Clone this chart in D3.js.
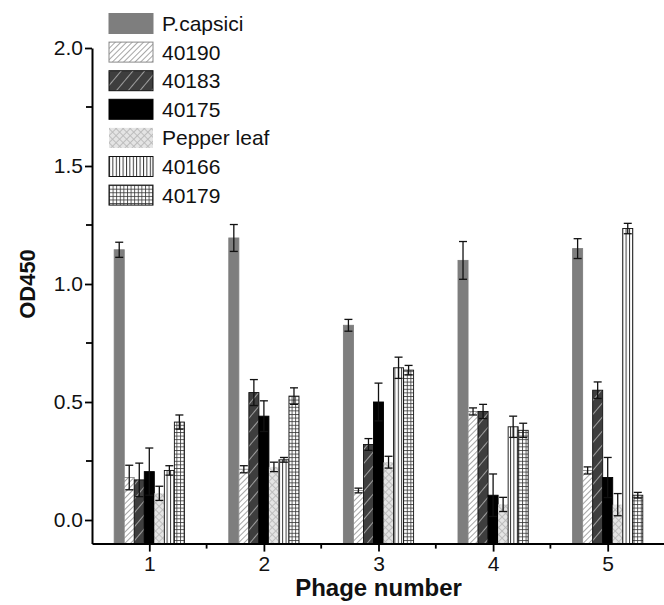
<!DOCTYPE html>
<html>
<head>
<meta charset="utf-8">
<script src="https://cdn.jsdelivr.net/npm/d3@7"></script>
<style>
    body { margin: 0; background: #fff; }
    text { font-family: "Liberation Sans", Arial, sans-serif; fill: #111; }
</style>
</head>
<body>
<div id="chart-area"></div>
<script>
var width = 664;
var height = 605;

// phage numbers on the x axis
var phages = [1, 2, 3, 4, 5];
var seriesNames = ["P.capsici", "40190", "40183", "40175", "Pepper leaf", "40166", "40179"];

// OD450 means per series (one value per phage)
var pcapsici = [1.145, 1.195, 0.825, 1.10, 1.15];
var s40190 = [0.18, 0.215, 0.125, 0.46, 0.21];
var s40183 = [0.17, 0.54, 0.32, 0.46, 0.55];
var s40175 = [0.205, 0.44, 0.50, 0.105, 0.18];
var pepperLeaf = [0.113, 0.225, 0.245, 0.066, 0.065];
var s40166 = [0.21, 0.255, 0.645, 0.395, 1.235];
var s40179 = [0.415, 0.525, 0.635, 0.38, 0.105];

// error bar half lengths
var pcapsiciErr = [0.032, 0.057, 0.025, 0.08, 0.042];
var s40190Err = [0.052, 0.015, 0.01, 0.015, 0.015];
var s40183Err = [0.071, 0.055, 0.025, 0.03, 0.035];
var s40175Err = [0.10, 0.065, 0.08, 0.09, 0.085];
var pepperLeafErr = [0.03, 0.02, 0.025, 0.03, 0.047];
var s40166Err = [0.02, 0.01, 0.045, 0.045, 0.022];
var s40179Err = [0.03, 0.035, 0.02, 0.03, 0.012];

var yTicks = [0, 0.5, 1.0, 1.5, 2.0];
var yMinorTicks = [0.25, 0.75, 1.25, 1.75];
var xMinorTicks = [1.5, 2.5, 3.5, 4.5];

var values = [pcapsici, s40190, s40183, s40175, pepperLeaf, s40166, s40179];
var errors = [pcapsiciErr, s40190Err, s40183Err, s40175Err, pepperLeafErr, s40166Err, s40179Err];

var fills = ["#7e7e7e", "url(#hatch40190)", "url(#hatch40183)", "#000", "url(#hatchPepper)", "url(#hatch40166)", "url(#hatch40179)"];
var strokes = ["#7e7e7e", "#8a8a8a", "#111", "#000", "none", "#111", "#111"];

var svg = d3.select("#chart-area").append("svg")
    .attr("width", width)
    .attr("height", height);

var x = d3.scaleLinear()
    .domain([0.5, 5.5])
    .range([92, 665]);

var y = d3.scaleLinear()
    .domain([-0.1, 2.0])
    .range([543.6, 48]);

var barUnits = 0.0875;

function makePatterns() {
    var defs = svg.append("defs");

    var p1 = defs.append("pattern")
        .attr("id", "hatch40190")
        .attr("patternUnits", "userSpaceOnUse")
        .attr("width", 4).attr("height", 4)
        .attr("patternTransform", "rotate(45)");
    p1.append("rect").attr("width", 4).attr("height", 4).attr("fill", "#fff");
    p1.append("line").attr("x1", 0).attr("y1", 0).attr("x2", 0).attr("y2", 4)
        .attr("stroke", "#8f8f8f").attr("stroke-width", 1.6);

    var p2 = defs.append("pattern")
        .attr("id", "hatch40183")
        .attr("patternUnits", "userSpaceOnUse")
        .attr("width", 9).attr("height", 9)
        .attr("patternTransform", "rotate(40)");
    p2.append("rect").attr("width", 9).attr("height", 9).attr("fill", "#3e3e3e");
    p2.append("line").attr("x1", 0).attr("y1", 0).attr("x2", 0).attr("y2", 9)
        .attr("stroke", "#fff").attr("stroke-width", 1);

    var p3 = defs.append("pattern")
        .attr("id", "hatchPepper")
        .attr("patternUnits", "userSpaceOnUse")
        .attr("width", 5).attr("height", 5)
        .attr("patternTransform", "rotate(45)");
    p3.append("rect").attr("width", 5).attr("height", 5).attr("fill", "#e4e4e4");
    p3.append("line").attr("x1", 0).attr("y1", 0).attr("x2", 0).attr("y2", 5)
        .attr("stroke", "#bababa").attr("stroke-width", 1.8);
    p3.append("line").attr("x1", 0).attr("y1", 0).attr("x2", 5).attr("y2", 0)
        .attr("stroke", "#bababa").attr("stroke-width", 1.8);

    var p4 = defs.append("pattern")
        .attr("id", "hatch40166")
        .attr("patternUnits", "userSpaceOnUse")
        .attr("width", 3.4).attr("height", 4);
    p4.append("rect").attr("width", 3.4).attr("height", 4).attr("fill", "#fff");
    p4.append("line").attr("x1", 0.5).attr("y1", 0).attr("x2", 0.5).attr("y2", 4)
        .attr("stroke", "#222").attr("stroke-width", 0.9);

    var p5 = defs.append("pattern")
        .attr("id", "hatch40179")
        .attr("patternUnits", "userSpaceOnUse")
        .attr("width", 3.6).attr("height", 3.6);
    p5.append("rect").attr("width", 3.6).attr("height", 3.6).attr("fill", "#fff");
    p5.append("line").attr("x1", 0.5).attr("y1", 0).attr("x2", 0.5).attr("y2", 3.6)
        .attr("stroke", "#333").attr("stroke-width", 0.8);
    p5.append("line").attr("x1", 0).attr("y1", 0.5).attr("x2", 3.6).attr("y2", 0.5)
        .attr("stroke", "#333").attr("stroke-width", 0.8);
}

function drawAxes() {
    var yAxis = d3.axisLeft(y)
        .tickValues(yTicks)
        .tickFormat(d3.format(".1f"))
        .tickSize(7)
        .tickSizeOuter(0)
        .tickPadding(2);

    var gy = svg.append("g")
        .attr("transform", "translate(" + x(0.5) + ",0)")
        .call(yAxis);

    gy.selectAll(".minor")
        .data(yMinorTicks)
        .enter()
        .append("line")
        .attr("class", "minor")
        .attr("x1", -6).attr("x2", 0)
        .attr("y1", function(d){ return y(d); })
        .attr("y2", function(d){ return y(d); })
        .attr("stroke", "#000");

    var xAxis = d3.axisBottom(x)
        .tickValues(phages)
        .tickFormat(d3.format("d"))
        .tickSize(8)
        .tickSizeOuter(0)
        .tickPadding(4);

    var gx = svg.append("g")
        .attr("transform", "translate(0," + y(-0.1) + ")")
        .call(xAxis);

    gx.selectAll(".minor")
        .data(xMinorTicks)
        .enter()
        .append("line")
        .attr("class", "minor")
        .attr("y1", 0).attr("y2", 5)
        .attr("x1", function(d){ return x(d); })
        .attr("x2", function(d){ return x(d); })
        .attr("stroke", "#000");

    svg.selectAll(".domain").attr("stroke", "#000").attr("stroke-width", 2);
    svg.selectAll(".tick line, .minor").attr("stroke", "#000").attr("stroke-width", 1.8);
    svg.selectAll(".tick text")
        .attr("font-size", "21px")
        .attr("font-family", "Liberation Sans, Arial, sans-serif")
        .attr("fill", "#111");

    svg.append("text")
        .attr("x", x(3))
        .attr("y", 596)
        .attr("text-anchor", "middle")
        .attr("font-size", "24px")
        .attr("font-weight", "bold")
        .text("Phage number");

    svg.append("text")
        .attr("transform", "translate(35," + y(1.0) + ") rotate(-90)")
        .attr("text-anchor", "middle")
        .attr("font-size", "22px")
        .attr("font-weight", "bold")
        .text("OD450");
}

function drawBars() {
    var barW = x(barUnits) - x(0);

    for (var s = 0; s < seriesNames.length; s++) {
        var rows = phages.map(function(p, i) {
            return { phage: p, value: values[s][i], err: errors[s][i], series: s };
        });

        var g = svg.append("g").attr("class", "series-" + s);

        g.selectAll("rect")
            .data(rows)
            .enter()
            .append("rect")
            .attr("x", function(d){ return x(d.phage + (d.series - 3.5) * barUnits); })
            .attr("y", function(d){ return y(d.value); })
            .attr("width", barW)
            .attr("height", function(d){ return y(-0.1) - y(d.value); })
            .attr("fill", fills[s])
            .attr("stroke", strokes[s])
            .attr("stroke-width", 0.9);
    }

    // error bars on top of all bars
    for (var t = 0; t < seriesNames.length; t++) {
        var errRows = phages.map(function(p, i) {
            return { phage: p, value: values[t][i], err: errors[t][i], series: t };
        });

        var eg = svg.append("g").attr("class", "err-" + t);
        var cx = function(d){ return x(d.phage + (d.series - 3) * barUnits); };

        eg.selectAll(".stem")
            .data(errRows)
            .enter()
            .append("line")
            .attr("class", "stem")
            .attr("x1", cx).attr("x2", cx)
            .attr("y1", function(d){ return y(d.value - d.err); })
            .attr("y2", function(d){ return y(d.value + d.err); })
            .attr("stroke", "#111").attr("stroke-width", 1.3);

        [1, -1].forEach(function(sign) {
            eg.selectAll(".cap" + sign)
                .data(errRows)
                .enter()
                .append("line")
                .attr("x1", function(d){ return cx(d) - 4; })
                .attr("x2", function(d){ return cx(d) + 4; })
                .attr("y1", function(d){ return y(d.value + sign * d.err); })
                .attr("y2", function(d){ return y(d.value + sign * d.err); })
                .attr("stroke", "#111").attr("stroke-width", 1.3);
        });
    }
}

function drawLegend() {
    var legend = svg.append("g").attr("class", "legend");

    var items = legend.selectAll("g")
        .data(seriesNames)
        .enter()
        .append("g")
        .attr("transform", function(d, i){ return "translate(109," + (13.5 + i * 28.6) + ")"; });

    items.append("rect")
        .attr("width", 44)
        .attr("height", 20)
        .attr("fill", function(d, i){ return fills[i]; })
        .attr("stroke", function(d, i){ return strokes[i]; })
        .attr("stroke-width", 1);

    items.append("text")
        .attr("x", 53)
        .attr("y", 17.5)
        .attr("font-size", "21px")
        .text(function(d){ return d; });
}

makePatterns();
drawBars();
drawAxes();
drawLegend();
</script>
</body>
</html>
